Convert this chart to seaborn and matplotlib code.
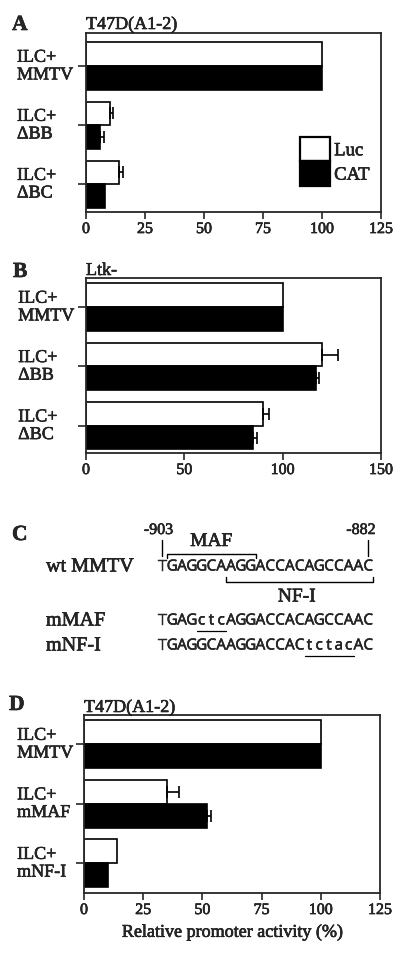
import numpy as np
import pandas as pd
import matplotlib
matplotlib.use("Agg")
import matplotlib.pyplot as plt
import matplotlib.patheffects as pe
import seaborn as sns
from matplotlib.patches import Patch
from matplotlib.lines import Line2D

sns.set_style("ticks")
plt.rcParams['font.family'] = ['Liberation Serif', 'DejaVu Serif']

# panel A: T47D(A1-2)
constructs_a = ['ILC+\nMMTV', 'ILC+\nΔBB', 'ILC+\nΔBC']
luc_a = [100, 10, 14]
luc_err_a = [0, 1.5, 1.5]
cat_a = [100, 6, 8]
cat_err_a = [0, 1.5, 0]

# panel B: Ltk-
constructs_b = ['ILC+\nMMTV', 'ILC+\nΔBB', 'ILC+\nΔBC']
luc_b = [100, 120, 90]
luc_err_b = [0, 8, 3]
cat_b = [100, 117, 85]
cat_err_b = [0, 1.5, 2]

# panel D: T47D(A1-2), mutants
constructs_d = ['ILC+\nMMTV', 'ILC+\nmMAF', 'ILC+\nmNF-I']
luc_d = [100, 35, 14]
luc_err_d = [0, 5, 0]
cat_d = [100, 52, 10]
cat_err_d = [0, 1.5, 0]

reporters = ['Luc', 'CAT']
colors = {'Luc': 'white', 'CAT': 'black'}

# panel C: sequences
seq_rows = ['wt MMTV', 'mMAF', 'mNF-I']
seqs = ['TGAGGCAAGGACCACAGCCAAC',
        'TGAGctcAGGACCACAGCCAAC',
        'TGAGGCAAGGACCACtctacAC']
maf_site = (1, 9)
nfi_site = (7, 21)
pos_labels = ['-903', '-882']

W, H = 400, 956
fig = plt.figure(figsize=(W / 100, H / 100), dpi=100)


def rect(left, top, right, bottom):
    return [left / W, 1 - bottom / H, (right - left) / W, (bottom - top) / H]


def fx(x):
    return x / W


def fy(y):
    return 1 - y / H


def panel(ax, constructs, luc, luc_err, cat, cat_err, xmax, step, ylim, label_x):
    df = pd.DataFrame({
        'construct': constructs * 2,
        'reporter': ['Luc'] * len(constructs) + ['CAT'] * len(constructs),
        'value': luc + cat,
        'err': luc_err + cat_err,
    })
    sns.barplot(data=df, y='construct', x='value', hue='reporter',
                hue_order=reporters, palette=colors, saturation=1,
                edgecolor='black', linewidth=1.2, orient='h', width=0.8,
                errorbar=None, legend=False, ax=ax)
    errs = {(r, c): e for r, c, e in zip(df.reporter, df.construct, df.err)}
    for p in ax.patches:
        yc = p.get_y() + p.get_height() / 2
        i = int(round(yc))
        rep = 'Luc' if yc < i else 'CAT'
        e = errs[(rep, constructs[i])]
        if e > 0:
            ax.errorbar(p.get_width(), yc, xerr=[[0], [e]], fmt='none',
                        ecolor='black', elinewidth=1.2, capsize=4, capthick=1.2)
    ax.set_xlim(0, xmax)
    ax.set_xticks(np.arange(0, xmax + 1, step))
    ax.set_ylim(*ylim)
    ax.set_xlabel('')
    ax.set_ylabel('')
    ax.tick_params(axis='y', labelleft=False, length=6, width=1.2, direction='out')
    ax.tick_params(axis='x', labelsize=11.5, length=5, width=1.2, pad=1.5, direction='out')
    for s in ax.spines.values():
        s.set_visible(True)
        s.set_linewidth(1.3)
    for i, c in enumerate(constructs):
        ax.text(label_x, i, c, transform=ax.get_yaxis_transform(), ha='left',
                va='center', fontsize=13, linespacing=1.05)


# A
ax_a = fig.add_axes(rect(86, 33, 381, 212))
panel(ax_a, constructs_a, luc_a, luc_err_a, cat_a, cat_err_a, 125, 25,
      (2.47, -0.56), -0.234)
ax_a.text(0, 1 + 4 / 179, 'T47D(A1-2)', transform=ax_a.transAxes,
          fontsize=13, va='baseline', ha='left')
handles = [Patch(facecolor=colors[r], edgecolor='black', linewidth=1.6) for r in reporters]
ax_a.legend(handles, reporters, loc='upper left',
            bbox_to_anchor=((300 - 86) / 295, (212 - 137) / 179),
            frameon=False, fontsize=13.5, handlelength=1.62, handleheight=1.62,
            labelspacing=0.0, handletextpad=0.2, borderpad=0, borderaxespad=0)
fig.text(fx(12), fy(30), 'A', fontsize=15.5, weight='bold', va='baseline')

# B
ax_b = fig.add_axes(rect(86, 278, 381, 453))
panel(ax_b, constructs_b, luc_b, luc_err_b, cat_b, cat_err_b, 150, 50,
      (2.46, -0.49), -0.23)
ax_b.text(0, 1 + 3 / 175, 'Ltk-', transform=ax_b.transAxes,
          fontsize=13, va='baseline', ha='left')
fig.text(fx(13), fy(277), 'B', fontsize=15.5, weight='bold', va='baseline')

# C
fig.text(fx(12), fy(540), 'C', fontsize=15.5, weight='bold', va='baseline')
pitch = 9.8
x0 = 162.4
row_y = [567, 621, 646]
seq_font = ['Liberation Sans Narrow', 'Noto Sans']
seq_texts = []
for name, seq, y in zip(seq_rows, seqs, row_y):
    fig.text(fx(46), fy(y), name, fontsize=14.5, ha='left', va='center')
    for i, ch in enumerate(seq):
        seq_texts.append(fig.text(fx(x0 + i * pitch), fy(y), ch, family=seq_font,
                                  fontsize=11, ha='center', va='center'))
    low = [i for i, ch in enumerate(seq) if ch.islower()]
    if low:
        xa = x0 + low[0] * pitch - pitch / 2
        xb = x0 + low[-1] * pitch + pitch / 2
        fig.add_artist(Line2D([fx(xa), fx(xb)], [fy(y + 10), fy(y + 10)],
                              color='black', lw=0.9))

# MAF bracket (above) and NF-I bracket (below)
xa = x0 + maf_site[0] * pitch - pitch / 2
xb = x0 + maf_site[1] * pitch + pitch / 2
fig.add_artist(Line2D([fx(xa), fx(xa), fx(xb), fx(xb)],
                      [fy(558), fy(554), fy(554), fy(558)], color='black', lw=1))
fig.text(fx((xa + xb) / 2), fy(541.5), 'MAF', fontsize=14, ha='center', va='center')
xa = x0 + nfi_site[0] * pitch - pitch / 2
xb = x0 + nfi_site[1] * pitch + pitch / 2
fig.add_artist(Line2D([fx(xa), fx(xa), fx(xb), fx(xb)],
                      [fy(577), fy(581.5), fy(581.5), fy(577)], color='black', lw=1))
fig.text(fx(297), fy(597), 'NF-I', fontsize=14, ha='center', va='center')

# position markers
for lab, i, tx in zip(pos_labels, [0, len(seqs[0]) - 1], [158.5, 361]):
    xm = x0 + i * pitch
    fig.add_artist(Line2D([fx(xm), fx(xm)], [fy(540), fy(556)], color='black', lw=1))
    fig.text(fx(tx), fy(530), lab, fontsize=11.5, ha='center', va='center')

# D
ax_d = fig.add_axes(rect(84, 715, 380, 893))
panel(ax_d, constructs_d, luc_d, luc_err_d, cat_d, cat_err_d, 125, 25,
      (2.5, -0.49), -0.226)
ax_d.text(0, 1 + 3 / 178, 'T47D(A1-2)', transform=ax_d.transAxes,
          fontsize=13, va='baseline', ha='left')
ax_d.set_xlabel('Relative promoter activity (%)', fontsize=13, labelpad=4)
fig.text(fx(9), fy(710), 'D', fontsize=15.5, weight='bold', va='baseline')

# heavier print look, like the scanned figure
for t in fig.findobj(matplotlib.text.Text):
    w = 0.3 if t in seq_texts else 0.4
    t.set_path_effects([pe.withStroke(linewidth=w, foreground='black')])

fig.savefig('out.png', dpi=100)
